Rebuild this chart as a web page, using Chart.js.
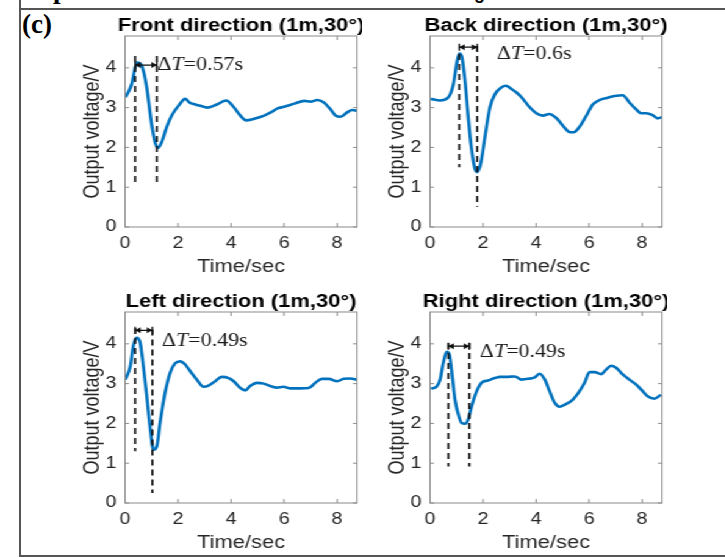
<!DOCTYPE html>
<html>
<head>
<meta charset="utf-8">
<title>Output voltage vs time</title>
<script src="https://cdn.jsdelivr.net/npm/chart.js@4.4.1/dist/chart.umd.min.js"></script>
<style>
  body { margin: 0; background: #fff; }
  #page { position: relative; width: 725px; height: 557px; overflow: hidden; background: #fff; }
  /* the source figure is stretched sideways, so the plots are too */
  #fig { position: absolute; left: 0; top: 0; width: 595px; height: 557px; transform: scaleX(1.22); transform-origin: 0 0; }
  #fig canvas { position: absolute; }
  .rule { position: absolute; background: #555; }
  .frag { position: absolute; white-space: nowrap; color: #000; }
</style>
</head>
<body>
<div id="page">
  <div class="rule" style="left:19px;top:0;width:2px;height:557px"></div>
  <div class="rule" style="left:19px;top:8px;width:706px;height:1.5px"></div>
  <div class="rule" style="left:19px;top:555px;width:706px;height:2px"></div>
  <div class="frag" style="left:53px;top:-24px;font:bold 27px/27px 'Liberation Serif'">p</div>
  <div class="frag" style="left:474px;top:-16px;font:bold 18px/18px 'Liberation Sans'">g</div>
  <div class="frag" style="left:22px;top:11px;font:bold 27px/27px 'Liberation Serif'">(c)</div>
  <div id="fig"></div>
</div>
<script>
const xTicks = [0, 2, 4, 6, 8];
const yTicks = [0, 1, 2, 3, 4];
const panelTitles = ['Front direction (1m,30°)', 'Back direction (1m,30°)', 'Left direction (1m,30°)', 'Right direction (1m,30°)'];

const frontTime = [0.02, 0.25, 0.38, 0.46, 0.63, 0.82, 1.0, 1.13, 1.24, 1.38, 1.57, 1.76, 2.02, 2.27, 2.43, 2.65, 2.87, 3.09, 3.46, 3.82, 4.09, 4.35, 4.57, 4.87, 5.25, 5.5, 5.75, 6.0, 6.39, 6.76, 7.0, 7.25, 7.5, 7.75, 7.94, 8.13, 8.38, 8.57, 8.75];
const frontVolt = [3.26, 3.59, 4.0, 4.13, 4.05, 3.5, 2.59, 2.13, 1.99, 2.13, 2.51, 2.8, 3.05, 3.22, 3.13, 3.08, 3.04, 3.0, 3.08, 3.18, 3.02, 2.8, 2.68, 2.72, 2.8, 2.88, 2.98, 3.02, 3.1, 3.17, 3.15, 3.19, 3.13, 2.96, 2.8, 2.77, 2.88, 2.94, 2.92];

const backTime = [0.03, 0.38, 0.69, 0.88, 1.0, 1.1, 1.19, 1.32, 1.44, 1.57, 1.69, 1.78, 1.91, 2.07, 2.26, 2.45, 2.7, 2.86, 3.07, 3.26, 3.45, 3.76, 4.01, 4.26, 4.5, 4.76, 5.02, 5.25, 5.42, 5.62, 5.89, 6.14, 6.39, 6.71, 6.96, 7.27, 7.52, 7.77, 7.96, 8.15, 8.4, 8.59, 8.75];
const backVolt = [3.22, 3.18, 3.26, 3.59, 4.09, 4.36, 4.3, 3.67, 2.76, 1.93, 1.47, 1.38, 1.59, 2.26, 3.01, 3.34, 3.51, 3.55, 3.47, 3.38, 3.26, 3.01, 2.86, 2.8, 2.84, 2.74, 2.54, 2.39, 2.38, 2.5, 2.79, 3.08, 3.19, 3.25, 3.29, 3.31, 3.13, 2.96, 2.86, 2.86, 2.81, 2.73, 2.76];

const leftTime = [0.01, 0.2, 0.31, 0.44, 0.57, 0.69, 0.82, 0.94, 1.07, 1.2, 1.32, 1.51, 1.7, 1.89, 2.08, 2.27, 2.46, 2.71, 2.96, 3.15, 3.4, 3.65, 3.91, 4.1, 4.35, 4.54, 4.72, 4.98, 5.23, 5.48, 5.73, 5.98, 6.24, 6.61, 6.93, 7.18, 7.43, 7.69, 8.0, 8.25, 8.5, 8.75];
const leftVolt = [3.1, 3.44, 3.94, 4.15, 4.03, 3.44, 2.68, 1.93, 1.34, 1.43, 2.01, 2.77, 3.27, 3.51, 3.56, 3.48, 3.31, 3.1, 2.92, 2.95, 3.06, 3.17, 3.14, 3.06, 2.89, 2.83, 2.94, 3.02, 3.0, 2.94, 2.9, 2.92, 2.88, 2.88, 2.89, 3.02, 3.12, 3.12, 3.06, 3.12, 3.13, 3.1];

const rightTime = [0.04, 0.25, 0.38, 0.5, 0.63, 0.73, 0.84, 0.94, 1.07, 1.19, 1.32, 1.44, 1.57, 1.76, 1.94, 2.19, 2.45, 2.63, 2.89, 3.2, 3.45, 3.7, 3.95, 4.14, 4.33, 4.51, 4.7, 4.88, 5.11, 5.39, 5.64, 5.83, 6.02, 6.21, 6.46, 6.64, 6.83, 7.02, 7.27, 7.52, 7.77, 8.02, 8.21, 8.46, 8.71];
const rightVolt = [2.87, 2.93, 3.1, 3.52, 3.8, 3.73, 3.18, 2.6, 2.22, 2.01, 1.99, 2.1, 2.43, 2.81, 3.02, 3.08, 3.14, 3.17, 3.17, 3.18, 3.1, 3.12, 3.16, 3.25, 3.1, 2.81, 2.52, 2.42, 2.48, 2.6, 2.81, 3.02, 3.29, 3.29, 3.24, 3.35, 3.45, 3.4, 3.23, 3.1, 2.98, 2.81, 2.68, 2.62, 2.72];

// ΔT markers (front, back, left, right), in data units
const peakTime = [0.38, 1.10, 0.38, 0.69];
const valleyTime = [1.20, 1.78, 1.03, 1.48];
const peakLineTop = [4.30, 4.35, 4.40, 4.02];
const peakLineEnd = [1.10, 1.50, 1.30, 0.92];
const valleyLineTop = [4.30, 4.55, 4.36, 4.02];
const valleyLineEnd = [1.05, 0.51, 0.25, 0.92];
const arrowLevel = [4.07, 4.52, 4.34, 3.94];
const deltaT = ['0.57s', '0.6s', '0.49s', '0.49s'];
const labelTime = [1.22, 2.52, 1.39, 1.88];
const labelLevel = [4.07, 4.35, 4.07, 3.80];

const series = [[frontTime, frontVolt], [backTime, backVolt], [leftTime, leftVolt], [rightTime, rightVolt]];
const spots = [[0, 0], [250, 0], [0, 276], [250, 276]];

const sans = '"Liberation Sans", Arial, Helvetica, sans-serif';
const serif = '"Liberation Serif", "Times New Roman", serif';
Chart.defaults.font.family = sans;

function makeDecor(i) {
    return {
        id: 'decor' + i,
        afterDraw(chart) {
            let ctx = chart.ctx;
            let a = chart.chartArea;
            let sx = chart.scales.x, sy = chart.scales.y;
            ctx.save();

            // axes box, ticks pointing inward on all sides
            ctx.strokeStyle = '#8a8a8a';
            ctx.lineWidth = 1;
            ctx.strokeRect(a.left, a.top, a.width, a.height);
            ctx.beginPath();
            xTicks.forEach(v => {
                let px = sx.getPixelForValue(v);
                ctx.moveTo(px, a.bottom); ctx.lineTo(px, a.bottom - 4);
                ctx.moveTo(px, a.top); ctx.lineTo(px, a.top + 4);
            });
            yTicks.forEach(v => {
                let py = sy.getPixelForValue(v);
                ctx.moveTo(a.left, py); ctx.lineTo(a.left + 3.3, py);
                ctx.moveTo(a.right, py); ctx.lineTo(a.right - 3.3, py);
            });
            ctx.stroke();

            // panel title
            ctx.fillStyle = '#000';
            ctx.font = 'bold 18px ' + sans;
            ctx.textAlign = 'center';
            ctx.textBaseline = 'middle';
            ctx.fillText(panelTitles[i], (a.left + a.right) / 2, 26);

            // dashed lines at peak and valley
            let x1 = sx.getPixelForValue(peakTime[i]);
            let x2 = sx.getPixelForValue(valleyTime[i]);
            ctx.strokeStyle = '#111';
            ctx.lineWidth = 1.7;
            ctx.setLineDash([6, 4]);
            ctx.beginPath();
            ctx.moveTo(x1, sy.getPixelForValue(peakLineTop[i]));
            ctx.lineTo(x1, sy.getPixelForValue(peakLineEnd[i]));
            ctx.moveTo(x2, sy.getPixelForValue(valleyLineTop[i]));
            ctx.lineTo(x2, sy.getPixelForValue(valleyLineEnd[i]));
            ctx.stroke();
            ctx.setLineDash([]);

            // double arrow between them
            let ay = sy.getPixelForValue(arrowLevel[i]);
            ctx.lineWidth = 1.3;
            ctx.beginPath();
            ctx.moveTo(x1, ay); ctx.lineTo(x2, ay);
            ctx.moveTo(x1, ay - 3.5); ctx.lineTo(x1, ay + 3.5);
            ctx.moveTo(x2, ay - 3.5); ctx.lineTo(x2, ay + 3.5);
            ctx.stroke();
            ctx.fillStyle = '#111';
            ctx.beginPath();
            ctx.moveTo(x1, ay); ctx.lineTo(x1 + 4.5, ay - 3); ctx.lineTo(x1 + 4.5, ay + 3); ctx.closePath();
            ctx.moveTo(x2, ay); ctx.lineTo(x2 - 4.5, ay - 3); ctx.lineTo(x2 - 4.5, ay + 3); ctx.closePath();
            ctx.fill();

            // ΔT label, T in italics
            let lx = sx.getPixelForValue(labelTime[i]);
            let ly = sy.getPixelForValue(labelLevel[i]);
            ctx.fillStyle = '#1a1a1a';
            ctx.textAlign = 'left';
            ctx.font = '18px ' + serif;
            ctx.fillText('Δ', lx, ly);
            lx += ctx.measureText('Δ').width;
            ctx.font = 'italic 18px ' + serif;
            ctx.fillText('T', lx, ly);
            lx += ctx.measureText('T').width;
            ctx.font = '18px ' + serif;
            ctx.fillText('=' + deltaT[i], lx, ly);

            ctx.restore();
        }
    };
}

let fig = document.getElementById('fig');
series.forEach((s, i) => {
    let cv = document.createElement('canvas');
    cv.width = 297;
    cv.height = 278;
    cv.style.left = spots[i][0] + 'px';
    cv.style.top = spots[i][1] + 'px';
    fig.appendChild(cv);

    let pts = s[0].map((t, k) => ({ x: t, y: s[1][k] }));

    new Chart(cv, {
        type: 'line',
        data: {
            datasets: [{
                data: pts,
                borderColor: '#0072BD',
                borderWidth: 2.6,
                pointRadius: 0,
                cubicInterpolationMode: 'monotone',
                fill: false
            }]
        },
        options: {
            responsive: false,
            animation: false,
            layout: { padding: { left: 61, top: 36, right: 4.4, bottom: 0 } },
            plugins: { legend: { display: false }, tooltip: { enabled: false } },
            scales: {
                x: {
                    type: 'linear',
                    min: 0,
                    max: 8.75,
                    afterBuildTicks: sc => { sc.ticks = xTicks.map(v => ({ value: v })); },
                    afterFit: sc => { sc.height = 51; },
                    grid: { display: false, drawTicks: false },
                    border: { display: false },
                    ticks: { padding: 7, maxRotation: 0, color: '#262626', font: { size: 16 } },
                    title: { display: true, text: 'Time/sec', color: '#262626', font: { size: 18 }, padding: { top: 4, bottom: 0 } }
                },
                y: {
                    min: 0,
                    max: 4.8,
                    afterBuildTicks: sc => { sc.ticks = yTicks.map(v => ({ value: v })); },
                    afterFit: sc => { sc.width = 41.5; },
                    grid: { display: false, drawTicks: false },
                    border: { display: false },
                    ticks: { padding: 7, color: '#262626', font: { size: 16 } },
                    title: { display: true, text: 'Output voltage/V', color: '#262626', font: { size: 18 }, padding: { top: 4, bottom: 4 } }
                }
            }
        },
        plugins: [makeDecor(i)]
    });
});
</script>
</body>
</html>
